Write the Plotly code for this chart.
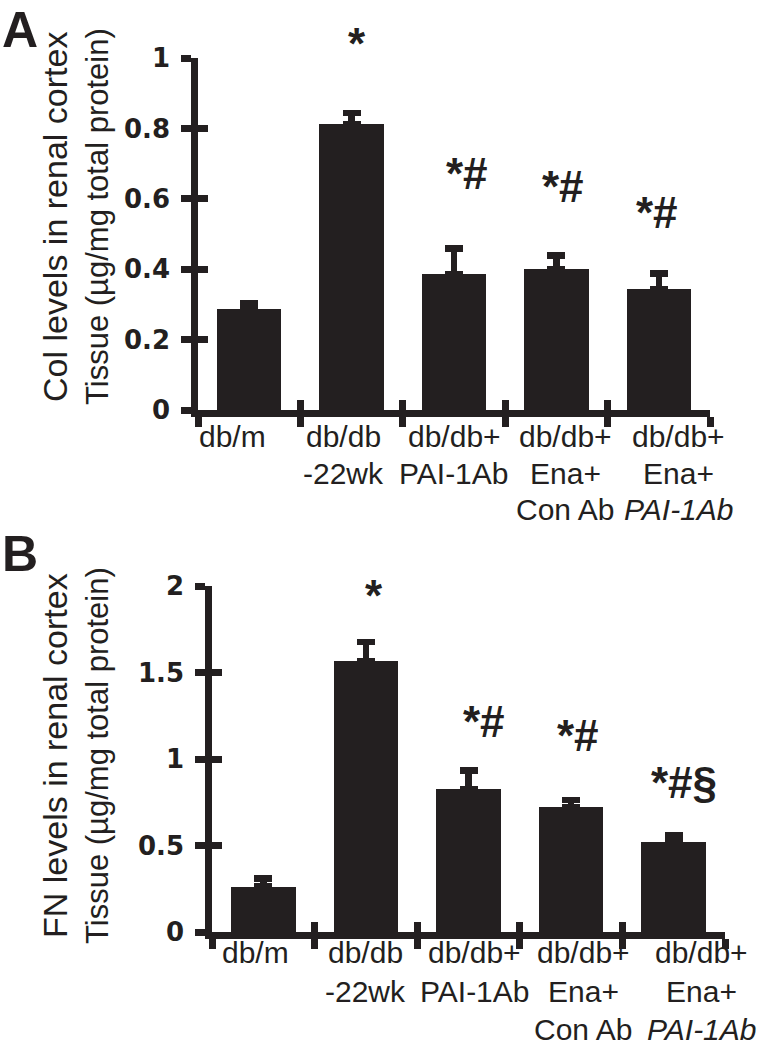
import plotly.graph_objects as go

# ---------------- data ----------------
categories = [
    "db/m",
    "db/db<br>-22wk",
    "db/db+<br>PAI-1Ab",
    "db/db+<br>Ena+<br>Con Ab",
    "db/db+<br>Ena+<br><i>PAI-1Ab</i>",
]
col_values = [0.287, 0.812, 0.386, 0.401, 0.343]
col_errors = [0.017, 0.032, 0.073, 0.038, 0.045]
fn_values = [0.262, 1.565, 0.825, 0.721, 0.519]
fn_errors = [0.048, 0.110, 0.110, 0.041, 0.040]
col_marks = ["", "*", "*#", "*#", "*#"]
fn_marks = ["", "*", "*#", "*#", "*#§"]
col_ticks = [0, 0.2, 0.4, 0.6, 0.8, 1]
col_ticktext = ["0", "0.2", "0.4", "0.6", "0.8", "1"]
fn_ticks = [0, 0.5, 1, 1.5, 2]
fn_ticktext = ["0", "0.5", "1", "1.5", "2"]
col_title = "Col levels in renal cortex<br>Tissue (µg/mg total protein)"
fn_title = "FN levels in renal cortex<br>Tissue (µg/mg total protein)"

# ---------------- style ----------------
INK = "#231f20"
W, H = 762, 1051
LW = 6.5
TL = 10
pos = list(range(len(categories)))
bounds = [p - 0.5 for p in pos] + [pos[-1] + 0.5]
zeros = [0] * len(categories)

# annotation pixel offsets (style)
col_dx = [0, 5, 13, 7, -2]
col_dy = [0, 43, 48, 42, 34]
fn_dx = [0, 8, 15, 7, 10]
fn_dy = [0, 20, 22, 38, 26]
# category label offsets (style)
col_lbl_dx = [-17, -8, 0, 9, 20]
fn_lbl_dx = [-8, 0, 6, 12, 28]
col_lbl_dy = [-8, -44.5, -81]
fn_lbl_dy = [-2, -41, -79]
# y-title line layout (style): x centre px, font size per line
title_x = [55, 97]
title_size = [34, 31]

fig = go.Figure()


def add_bars(vals, errs, xa, ya):
    fig.add_trace(go.Bar(
        x=pos, y=vals, width=0.63, xaxis=xa, yaxis=ya,
        marker=dict(color=INK, line=dict(width=0)),
        error_y=dict(type="data", array=errs, arrayminus=zeros, symmetric=False,
                     thickness=LW, width=9, color=INK),
        showlegend=False, hoverinfo="skip",
    ))


add_bars(col_values, col_errors, "x", "y")
add_bars(fn_values, fn_errors, "x2", "y2")
for xa, ya in [("x", "y3"), ("x3", "y"), ("x2", "y4"), ("x4", "y2")]:
    fig.add_trace(go.Scatter(x=[], y=[], xaxis=xa, yaxis=ya, showlegend=False))

lbl_font = dict(family="Liberation Sans, Arial", size=30, color=INK)
tick_font = dict(family="DejaVu Sans", size=26, color=INK, weight="bold")


def xaxis_main(domain, anchor):
    return dict(domain=domain, anchor=anchor, range=[-0.5, len(pos) - 0.5],
                tickmode="array", tickvals=bounds, showticklabels=False,
                ticks="outside", ticklen=TL, tickwidth=LW, tickcolor=INK,
                showline=True, linewidth=LW, linecolor=INK,
                showgrid=False, zeroline=False, automargin=False)


def xaxis_over(over, anchor):
    return dict(overlaying=over, anchor=anchor, range=[-0.5, len(pos) - 0.5],
                tickmode="array", tickvals=bounds, ticks="inside", ticklen=TL,
                tickwidth=LW, tickcolor=INK, showticklabels=False,
                showline=False, showgrid=False, zeroline=False, side="bottom",
                automargin=False)


def yaxis_main(domain, anchor, rng, tv, tt):
    return dict(domain=domain, anchor=anchor, range=rng,
                tickmode="array", tickvals=tv, ticktext=tt,
                ticks="outside", ticklen=TL, tickwidth=LW, tickcolor=INK,
                tickfont=tick_font, ticklabelstandoff=6,
                showline=True, linewidth=LW, linecolor=INK,
                showgrid=False, zeroline=False, automargin=False)


def yaxis_over(over, anchor, rng, tv):
    return dict(overlaying=over, anchor=anchor, range=rng, side="left",
                tickmode="array", tickvals=tv, ticks="inside", ticklen=TL,
                tickwidth=LW, tickcolor=INK, showticklabels=False,
                showline=False, showgrid=False, zeroline=False, automargin=False)


xA = [198 / W, 710 / W]
yA = [(H - 410) / H, (H - 58) / H]
xB = [212 / W, 725 / W]
yB = [(H - 932) / H, (H - 586) / H]

annotations = []


def add_marks(marks, vals, errs, dx, dy, xref, yref):
    for i, m in enumerate(marks):
        if not m:
            continue
        annotations.append(dict(
            x=pos[i], y=vals[i] + errs[i], xref=xref, yref=yref, text=m,
            showarrow=False, xanchor="center", yanchor="bottom",
            xshift=dx[i], yshift=dy[i],
            font=dict(family="Liberation Sans, Arial", size=44, color=INK, weight="bold"),
        ))


def add_labels(dx, dy, xref, yref):
    for i, lab in enumerate(categories):
        for k, line in enumerate(lab.split("<br>")):
            annotations.append(dict(
                x=pos[i], y=0, xref=xref, yref=yref, text=line,
                showarrow=False, xanchor="center", yanchor="top",
                xshift=dx[i], yshift=dy[k], font=lbl_font,
            ))


def add_title(text, ycen):
    for k, line in enumerate(text.split("<br>")):
        annotations.append(dict(
            x=title_x[k] / W, y=(H - ycen) / H, xref="paper", yref="paper",
            text=line, textangle=-90, showarrow=False,
            xanchor="center", yanchor="middle",
            font=dict(family="Liberation Sans, Arial", size=title_size[k], color=INK),
        ))


add_marks(col_marks, col_values, col_errors, col_dx, col_dy, "x", "y")
add_marks(fn_marks, fn_values, fn_errors, fn_dx, fn_dy, "x2", "y2")
add_labels(col_lbl_dx, col_lbl_dy, "x", "y")
add_labels(fn_lbl_dx, fn_lbl_dy, "x2", "y2")
add_title(col_title, 217)
add_title(fn_title, 756)

letter_font = dict(family="Liberation Sans, Arial", size=50, color=INK, weight="bold")
annotations.append(dict(x=0, y=1.0, xref="paper", yref="paper", text="A",
                        showarrow=False, xanchor="left", yanchor="top", font=letter_font))
annotations.append(dict(x=0, y=(H - 530) / H, xref="paper", yref="paper", text="B",
                        yshift=6, showarrow=False, xanchor="left", yanchor="top",
                        font=letter_font))

fig.update_layout(
    template="none",
    width=W, height=H, autosize=False,
    margin=dict(l=0, r=0, t=0, b=0, pad=0),
    paper_bgcolor="white", plot_bgcolor="white",
    xaxis=xaxis_main(xA, "y"),
    yaxis=yaxis_main(yA, "x", [0, 1], col_ticks, col_ticktext),
    xaxis2=xaxis_main(xB, "y2"),
    yaxis2=yaxis_main(yB, "x2", [0, 2], fn_ticks, fn_ticktext),
    xaxis3=xaxis_over("x", "y"),
    yaxis3=yaxis_over("y", "x", [0, 1], col_ticks),
    xaxis4=xaxis_over("x2", "y2"),
    yaxis4=yaxis_over("y2", "x2", [0, 2], fn_ticks),
    annotations=annotations,
    bargap=0,
)

fig.write_html("out.html", config={"displayModeBar": False},
               post_script="document.body.style.margin='0';document.body.style.overflow='hidden';")
